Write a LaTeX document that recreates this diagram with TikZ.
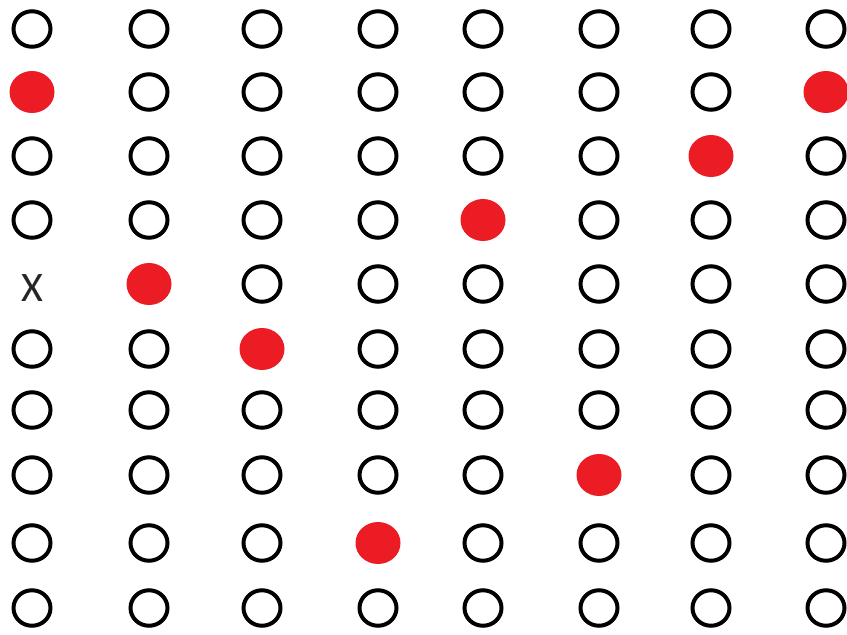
\documentclass[tikz,border=0pt]{standalone}
\usepackage{fontspec}
\newfontfamily\xfont{Carlito}
\usetikzlibrary{shapes.geometric}
\definecolor{dotred}{RGB}{236,28,36}
\tikzset{
  opencirc/.style={ellipse, draw=black, line width=4pt, minimum width=37pt, minimum height=35.5pt, inner sep=0pt},
  redcirc/.style={ellipse, fill=dotred, minimum width=45pt, minimum height=42pt, inner sep=0pt},
  xmark/.style={inner sep=0pt, font=\xfont\fontsize{42}{42}\selectfont, text=black!85}
}
\begin{document}
\begin{tikzpicture}[x=1pt,y=-1pt]
\useasboundingbox (0,0) rectangle (847,635);
\def\colx{{0,32,149,262,378,483,599,711,826}}
\def\rowy{{0,29,92,156,220,284,349,410,475,543,608}}
\foreach \r in {1,...,10}{
  \foreach \c in {1,...,8}{
    \pgfmathsetmacro{\px}{\colx[\c]}
    \pgfmathsetmacro{\py}{\rowy[\r]}
    \def\kind{open}
    \ifnum\r=2 \ifnum\c=1 \def\kind{red}\fi\ifnum\c=8 \def\kind{red}\fi\fi
    \ifnum\r=3 \ifnum\c=7 \def\kind{red}\fi\fi
    \ifnum\r=4 \ifnum\c=5 \def\kind{red}\fi\fi
    \ifnum\r=5 \ifnum\c=2 \def\kind{red}\fi\ifnum\c=1 \def\kind{x}\fi\fi
    \ifnum\r=6 \ifnum\c=3 \def\kind{red}\fi\fi
    \ifnum\r=8 \ifnum\c=6 \def\kind{red}\fi\fi
    \ifnum\r=9 \ifnum\c=4 \def\kind{red}\fi\fi
    \def\tmpopen{open}\def\tmpred{red}
    \ifx\kind\tmpopen
      \node[opencirc] (c-\r-\c) at (\px,\py) {};
    \else\ifx\kind\tmpred
      \node[redcirc] (c-\r-\c) at (\px,\py) {};
    \else
      \node[xmark] (c-\r-\c) at (\px,\py+4) {X};
    \fi\fi
  }
}
\end{tikzpicture}
\end{document}
